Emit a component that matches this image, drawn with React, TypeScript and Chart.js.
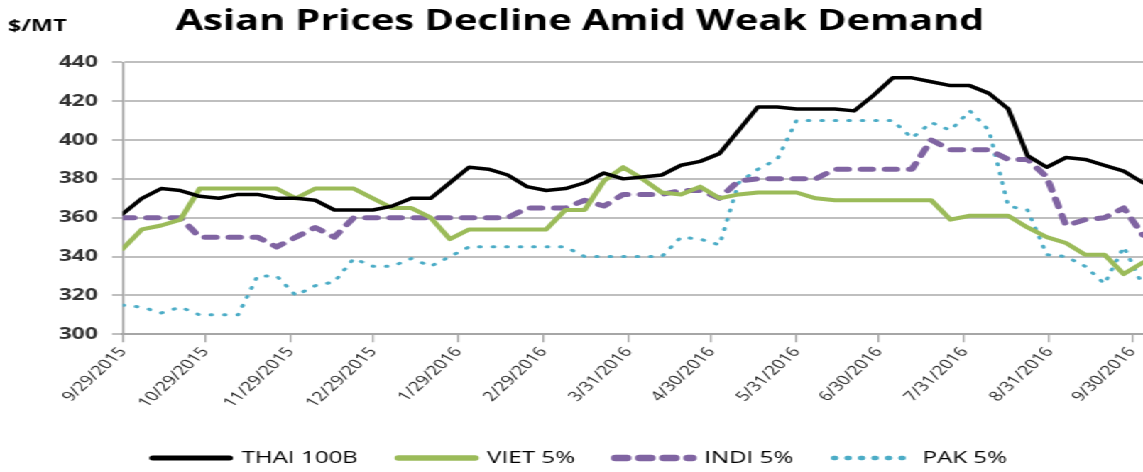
import React, { useEffect, useRef } from "react";
import { Chart, registerables } from "chart.js";

Chart.register(...registerables);

// ---- data ----
const titleText = "Asian Prices Decline Amid Weak Demand";
const unitLabel = "$/MT";
const seriesNames = ["THAI 100B", "VIET 5%", "INDI 5%", "PAK 5%"];
const startDate = "9/29/2015";
const tickLabels = [
  "9/29/2015", "10/29/2015", "11/29/2015", "12/29/2015", "1/29/2016", "2/29/2016",
  "3/31/2016", "4/30/2016", "5/31/2016", "6/30/2016", "7/31/2016", "8/31/2016", "9/30/2016",
];
const thai = [362,370,375,374,371,370,372,372,370,370,369,364,364,364,366,370,370,378,386,385,382,376,374,375,378,383,380,381,382,387,389,393,405,417,417,416,416,416,415,423,432,432,430,428,428,424,416,392,386,391,390,387,384,378];
const viet = [344,354,356,359,375,375,375,375,375,370,375,375,375,370,365,365,360,349,354,354,354,354,354,364,364,379,386,380,373,372,376,370,372,373,373,373,370,369,369,369,369,369,369,359,361,361,361,355,350,347,341,341,331,337];
const indi = [360,360,360,360,350,350,350,350,345,350,355,350,360,360,360,360,360,360,360,360,360,365,365,365,369,366,372,372,372,374,374,370,379,380,380,380,380,385,385,385,385,385,400,395,395,395,390,390,381,356,359,360,365,351];
const pak = [315,314,311,314,310,310,310,330,330,320,325,327,339,335,335,339,335,340,345,345,345,345,345,345,340,340,340,340,340,350,349,346,378,385,390,410,410,410,410,410,410,401,409,405,415,405,366,364,341,340,335,326,345,325];

// ---- helpers ----
const DAY = 86400000;
const parseMDY = (s: string) => {
  const [m, d, y] = s.split("/").map(Number);
  return Date.UTC(y, m - 1, d);
};
const t0 = parseMDY(startDate);
const dayOf = (s: string) => Math.round((parseMDY(s) - t0) / DAY);
const weekDays = thai.map((_, i) => i * 7); // weekly observations
const tickDays = tickLabels.map(dayOf);

const W = 805;
const H = 472;
const SX = 1143 / W;
const FONT = "'Open Sans', 'DejaVu Sans', sans-serif";
const LEGEND_PAD = 28.5;
const LEGEND_FONT = 17;
const BOTTOM_PAD = -4.5;
const PLOT_BOTTOM = 334.3;

const toXY = (arr: number[]) => arr.map((v, i) => ({ x: weekDays[i], y: v }));

const unitPlugin = {
  id: "unitLabel",
  afterDraw(chart: any) {
    const ctx = chart.ctx;
    ctx.save();
    ctx.font = `bold 16.5px ${FONT}`;
    ctx.fillStyle = "#000";
    ctx.textBaseline = "middle";
    ctx.textAlign = "left";
    ctx.fillText(unitLabel, 5.6, 26);
    ctx.restore();
  },
};

export default function App() {
  const ref = useRef<HTMLCanvasElement>(null);
  useEffect(() => {
    document.documentElement.style.overflow = "hidden";
    Chart.defaults.font.family = FONT;
    const legendH = LEGEND_FONT + LEGEND_PAD + 10;
    const xAxisH = H - BOTTOM_PAD - legendH - PLOT_BOTTOM;
    const chart = new Chart(ref.current as HTMLCanvasElement, {
      type: "line",
      data: {
        datasets: [
          { label: seriesNames[0], data: toXY(thai), borderColor: "#000000", backgroundColor: "#000000", borderWidth: 3.5, borderCapStyle: "round", borderJoinStyle: "round" },
          { label: seriesNames[1], data: toXY(viet), borderColor: "#9bbb59", backgroundColor: "#9bbb59", borderWidth: 4, borderCapStyle: "round", borderJoinStyle: "round" },
          { label: seriesNames[2], data: toXY(indi), borderColor: "#8064a2", backgroundColor: "#8064a2", borderWidth: 5, borderDash: [8, 9], borderCapStyle: "round", borderJoinStyle: "round" },
          { label: seriesNames[3], data: toXY(pak), borderColor: "#4bacc6", backgroundColor: "#4bacc6", borderWidth: 3, borderDash: [1, 8.5], borderCapStyle: "round", borderJoinStyle: "round" },
        ],
      },
      options: {
        responsive: false,
        maintainAspectRatio: false,
        animation: false,
        layout: { padding: { left: 12, right: 0, top: 0, bottom: BOTTOM_PAD } },
        elements: { point: { radius: 0, hoverRadius: 0 }, line: { tension: 0 } },
        plugins: {
          title: {
            display: true,
            text: titleText,
            color: "#000",
            font: { size: 28, weight: "bold", family: FONT },
            padding: { top: 5, bottom: 23.7 },
          },
          legend: {
            position: "bottom",
            labels: {
              usePointStyle: true,
              pointStyle: "line",
              pointStyleWidth: 54,
              padding: LEGEND_PAD,
              color: "#000",
              font: { size: LEGEND_FONT, family: FONT },
              generateLabels: (chart: any) =>
                Chart.defaults.plugins.legend.labels.generateLabels(chart).map((it: any) => {
                  const ds: any = chart.data.datasets[it.datasetIndex];
                  return {
                    ...it,
                    lineWidth: ds.borderWidth + 1.5,
                    lineDash: ds.borderDash ? ds.borderDash.slice() : [],
                    lineCap: "round",
                    strokeStyle: ds.borderColor,
                  };
                }),
            },
          },
          tooltip: { enabled: false },
        },
        scales: {
          x: {
            type: "linear",
            min: 0,
            max: 371,
            afterBuildTicks: (s: any) => {
              s.ticks = tickDays.map((v) => ({ value: v }));
            },
            afterFit: (s: any) => {
              s.height = xAxisH;
              s.paddingLeft = 0;
              s.paddingRight = 0;
            },
            ticks: {
              autoSkip: false,
              minRotation: 52,
              maxRotation: 52,
              padding: 2,
              color: "#262626",
              font: { size: 13.5, family: FONT },
              callback: (_v: any, i: number) => tickLabels[i],
            },
            grid: { display: true, drawOnChartArea: false, drawTicks: true, tickLength: 8, color: "#a6a6a6", lineWidth: 1.3 },
            border: { display: true, color: "#a6a6a6", width: 2 },
          },
          y: {
            min: 300,
            max: 440,
            afterFit: (s: any) => {
              s.width = 74.4;
            },
            ticks: {
              stepSize: 20,
              padding: 10,
              color: "#333333",
              font: { size: 16, weight: "bold", family: FONT },
            },
            grid: { color: "#bfbfbf", lineWidth: 2, tickLength: 7.5 },
            border: { display: true, color: "#a6a6a6", width: 1.5 },
          },
        },
      },
      plugins: [unitPlugin],
    } as any);
    return () => chart.destroy();
  }, []);

  return (
    <div
      style={{
        position: "absolute",
        left: 0,
        top: 0,
        width: W,
        height: H,
        transform: `scaleX(${SX})`,
        transformOrigin: "0 0",
        background: "#fff",
      }}
    >
      <canvas ref={ref} width={W} height={H} style={{ display: "block", width: `${W}px`, height: `${H}px` }} />
    </div>
  );
}
